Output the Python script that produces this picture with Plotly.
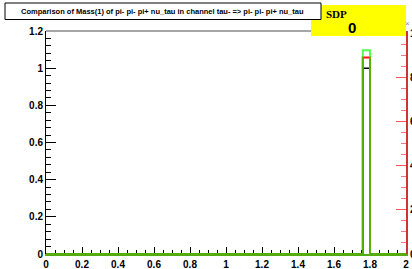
import plotly.graph_objects as go

# ---- data ----
bin_edges = [round(0.04 * i, 2) for i in range(51)]  # 50 bins over 0..2
black_counts = [0, 0, 0, 0, 0, 0, 0, 0, 0, 0,
                0, 0, 0, 0, 0, 0, 0, 0, 0, 0,
                0, 0, 0, 0, 0, 0, 0, 0, 0, 0,
                0, 0, 0, 0, 0, 0, 0, 0, 0, 0,
                0, 0, 0, 0, 1.0, 0, 0, 0, 0, 0]   # left (black) axis units
red_counts = [0, 0, 0, 0, 0, 0, 0, 0, 0, 0,
              0, 0, 0, 0, 0, 0, 0, 0, 0, 0,
              0, 0, 0, 0, 0, 0, 0, 0, 0, 0,
              0, 0, 0, 0, 0, 0, 0, 0, 0, 0,
              0, 0, 0, 0, 8.9, 0, 0, 0, 0, 0]   # right (red) axis units
green_counts = [0, 0, 0, 0, 0, 0, 0, 0, 0, 0,
                0, 0, 0, 0, 0, 0, 0, 0, 0, 0,
                0, 0, 0, 0, 0, 0, 0, 0, 0, 0,
                0, 0, 0, 0, 0, 0, 0, 0, 0, 0,
                0, 0, 0, 0, 9.23, 0, 0, 0, 0, 0]  # right (red) axis units
x_ticks = [0, 0.2, 0.4, 0.6, 0.8, 1, 1.2, 1.4, 1.6, 1.8, 2]
x_tick_labels = ["0", "0.2", "0.4", "0.6", "0.8", "1", "1.2", "1.4", "1.6", "1.8", "2"]
y_ticks = [0, 0.2, 0.4, 0.6, 0.8, 1, 1.2]
y_tick_labels = ["0", "0.2", "0.4", "0.6", "0.8", "1", "1.2"]
y2_ticks = [0, 2, 4, 6, 8, 10]
y2_tick_labels = ["0", "2", "4", "6", "8", "10"]
title_text = "Comparison of Mass(1) of pi- pi- pi+ nu_tau in channel tau- => pi- pi- pi+ nu_tau"
stat_title = "SDP"
stat_value = "0"

W, H = 412, 269
L, R, T, B = 46, 6, 31, 15
pw, ph = W - L - R, H - T - B
BASE_GREEN = "#55aa11"


def px(x):
    return (x - L) / pw


def py(y):
    return (H - B - y) / ph


def steps(counts):
    return bin_edges, list(counts) + [counts[-1]]


fig = go.Figure()
# black histogram on the left axis (base subplot, drawn first)
bx, by = steps(black_counts)
fig.add_trace(go.Scatter(x=bx, y=by, mode="lines", yaxis="y",
                         line=dict(color="black", width=1.5, shape="hv"),
                         hoverinfo="skip", showlegend=False))
# red and green on the right red axis (overlay subplot, drawn above)
rx, ry = steps(red_counts)
fig.add_trace(go.Scatter(x=rx, y=ry, mode="lines", yaxis="y2",
                         line=dict(color="#ff1010", width=2, shape="hv"),
                         hoverinfo="skip", showlegend=False))
gx, gy = steps(green_counts)
fig.add_trace(go.Scatter(x=gx, y=gy, mode="lines", yaxis="y2",
                         line=dict(color="rgba(0,255,0,0.68)", width=2, shape="hv"),
                         hoverinfo="skip", showlegend=False))

tickfont = dict(family="Liberation Sans, Arial", size=10, color="black", weight="bold")

fig.update_layout(
    width=W, height=H,
    margin=dict(l=L, r=R, t=T, b=B, autoexpand=False),
    paper_bgcolor="white", plot_bgcolor="white",
    xaxis=dict(range=[0, 2], tickvals=x_ticks, ticktext=x_tick_labels, ticks="inside", ticklen=7,
               tickcolor="black", tickwidth=1, showgrid=False, zeroline=False,
               showline=True, linecolor=BASE_GREEN, linewidth=2, tickfont=tickfont, layer="below traces",
               minor=dict(dtick=0.05, tick0=0, ticks="inside", ticklen=4, tickcolor="black", showgrid=False),
               fixedrange=True),
    # black left axis (base)
    yaxis=dict(range=[0, 1.2], side="left", tickvals=y_ticks, ticktext=y_tick_labels,
               ticks="inside", ticklen=10, tickcolor="black", tickwidth=1, showgrid=False, zeroline=False,
               showline=True, linecolor="black", linewidth=1, tickfont=tickfont,
               minor=dict(dtick=0.04, tick0=0, ticks="inside", ticklen=5, tickcolor="black", showgrid=False),
               fixedrange=True),
    # red right axis (overlay)
    yaxis2=dict(range=[0, 10.1], overlaying="y", side="right", tickvals=y2_ticks, ticktext=y2_tick_labels,
                ticks="inside", ticklen=10, tickcolor="#ff5555", tickwidth=1, showgrid=False, zeroline=False,
                showline=True, linecolor="#cc3333", linewidth=2, tickfont=tickfont,
                minor=dict(dtick=0.5, tick0=0, ticks="inside", ticklen=5, tickcolor="#ff7777", showgrid=False),
                fixedrange=True),
    shapes=[
        # top frame line
        dict(type="line", xref="paper", yref="paper", x0=0, x1=1, y0=1, y1=1,
             line=dict(color="#888888", width=1.5), layer="below"),
        # stat box (yellow)
        dict(type="rect", xref="paper", yref="paper", x0=px(311), x1=px(406), y0=py(36), y1=py(5),
             fillcolor="#ffff00", line=dict(width=0)),
        # title box
        dict(type="rect", xref="paper", yref="paper", x0=px(5), x1=px(321), y0=py(19.5), y1=py(3),
             fillcolor="white", line=dict(color="black", width=1)),
    ],
    annotations=[
        dict(text=title_text, xref="paper", yref="paper", x=px(162), y=py(11.3), showarrow=False,
             xanchor="center", yanchor="middle",
             font=dict(family="Liberation Sans, Arial", size=7.5, color="black", weight="bold")),
        dict(text=stat_title, xref="paper", yref="paper", x=px(324), y=py(13.5), showarrow=False,
             xanchor="left", yanchor="middle",
             font=dict(family="Liberation Serif, Times New Roman", size=11, color="black", weight="bold")),
        dict(text=stat_value, xref="paper", yref="paper", x=px(351.5), y=py(28), showarrow=False,
             xanchor="center", yanchor="middle",
             font=dict(family="Liberation Sans, Arial", size=15, color="black", weight="bold")),
        dict(text="×", xref="paper", yref="paper", x=px(407), y=py(24), showarrow=False,
             xanchor="center", yanchor="middle",
             font=dict(family="Liberation Sans, Arial", size=8, color="#888888")),
    ],
)

fig.write_html("out.html", config=dict(displayModeBar=False),
               post_script="document.body.style.margin='0';document.body.style.overflow='hidden';")
